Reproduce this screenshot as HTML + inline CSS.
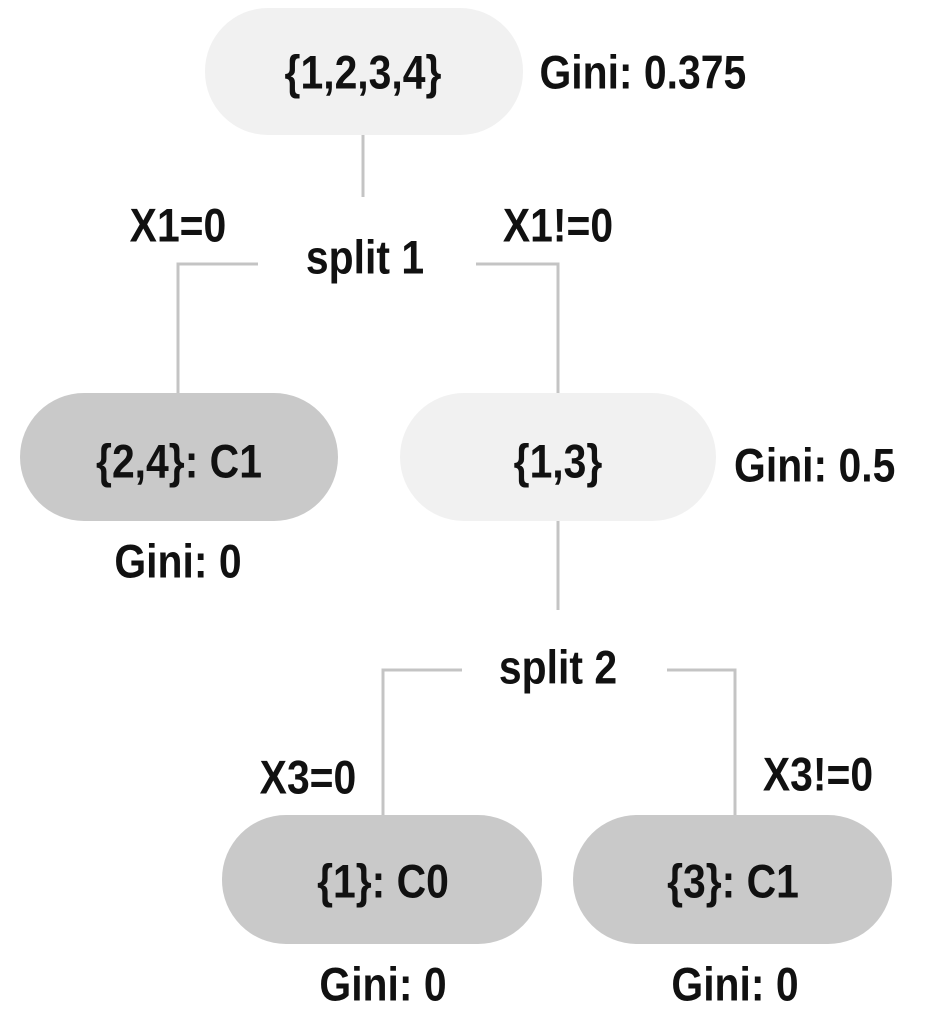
<!DOCTYPE html>
<html><head><meta charset="utf-8"><style>
html,body{margin:0;padding:0;background:#fff;}
svg{display:block}
text{font-family:"Liberation Sans",Arial,sans-serif;font-weight:bold;font-size:47px;fill:#111;dominant-baseline:central;transform-box:fill-box;transform-origin:center;transform:scaleX(0.87)}
</style></head><body>
<svg width="938" height="1033" viewBox="0 0 938 1033">
<g stroke="#c4c4c4" stroke-width="3" fill="none">
<path d="M363 135 V197"/>
<path d="M258 264 H178 V393"/>
<path d="M476 264 H558 V393"/>
<path d="M558 521 V610"/>
<path d="M462 670 H383 V815"/>
<path d="M667 670 H735 V815"/>
</g>
<rect x="205" y="8" width="318" height="127" rx="63" fill="#f1f1f1"/>
<text x="363" y="73" text-anchor="middle">{1,2,3,4}</text>
<text x="524" y="73">Gini: 0.375</text>
<text x="365" y="258" text-anchor="middle">split 1</text>
<text x="178" y="226" text-anchor="middle">X1=0</text>
<text x="558" y="226" text-anchor="middle">X1!=0</text>
<rect x="20" y="393" width="318" height="128" rx="64" fill="#c9c9c9"/>
<text x="179" y="462" text-anchor="middle">{2,4}: C1</text>
<text x="178" y="562" text-anchor="middle">Gini: 0</text>
<rect x="400" y="393" width="316" height="128" rx="64" fill="#f1f1f1"/>
<text x="558" y="462" text-anchor="middle">{1,3}</text>
<text x="722" y="466">Gini: 0.5</text>
<text x="558" y="668" text-anchor="middle">split 2</text>
<text x="308" y="778" text-anchor="middle">X3=0</text>
<text x="818" y="775" text-anchor="middle">X3!=0</text>
<rect x="222" y="815" width="320" height="129" rx="64" fill="#c9c9c9"/>
<text x="383" y="882" text-anchor="middle">{1}: C0</text>
<text x="383" y="985" text-anchor="middle">Gini: 0</text>
<rect x="573" y="815" width="319" height="129" rx="64" fill="#c9c9c9"/>
<text x="733" y="882" text-anchor="middle">{3}: C1</text>
<text x="735" y="985" text-anchor="middle">Gini: 0</text>
</svg>
</body></html>
